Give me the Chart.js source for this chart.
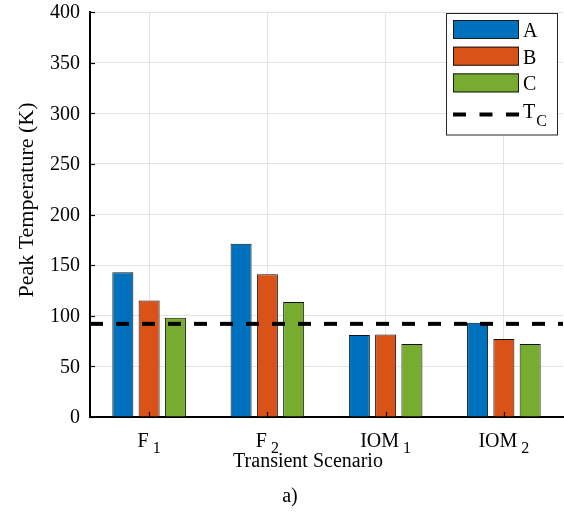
<!DOCTYPE html>
<html>
<head>
<meta charset="utf-8">
<script src="https://cdn.jsdelivr.net/npm/chart.js@4.4.0/dist/chart.umd.min.js"></script>
<style>
  html, body { margin: 0; padding: 0; background: #ffffff; }
  #wrap { width: 564px; height: 516px; }
</style>
</head>
<body>
<div id="wrap"><canvas id="chart" width="564" height="516"></canvas></div>
<script>
// Transient scenarios (base name + subscript) and peak temperatures per case
const scenarios = ['F_1', 'F_2', 'IOM_1', 'IOM_2'];
const seriesNames = ['A', 'B', 'C'];
const seriesA = [143, 171, 81, 93];
const seriesB = [115, 141, 81.5, 77];
const seriesC = [98, 113.5, 72, 72];
const seriesColors = ['#0072BD', '#D95319', '#77AC30'];
const criticalTemp = 92;          // T_C reference level
const criticalName = 'T_C';
const yTickValues = [0, 50, 100, 150, 200, 250, 300, 350, 400];

const SERIF = '"Liberation Serif", "Times New Roman", serif';
const font = size => size + 'px ' + SERIF;

function drawSub(ctx, text, cx, baseY, size, subSize, subDrop, gap, align) {
  const [main, sub] = text.split('_');
  ctx.font = font(size);
  const wMain = ctx.measureText(main).width;
  ctx.font = font(subSize);
  const wSub = sub ? ctx.measureText(sub).width : 0;
  const total = wMain + (sub ? gap + wSub : 0);
  const x = align === 'left' ? cx : cx - total / 2;
  ctx.textAlign = 'left';
  ctx.textBaseline = 'alphabetic';
  ctx.font = font(size);
  ctx.fillText(main, x, baseY);
  if (sub) {
    ctx.font = font(subSize);
    ctx.fillText(sub, x + wMain + gap, baseY + subDrop);
  }
}

const decorations = {
  id: 'decorations',
  afterDatasetsDraw(chart) {
    const { ctx, chartArea: a, scales: { x, y } } = chart;
    ctx.save();
    // inward tick marks
    ctx.strokeStyle = '#000';
    ctx.lineWidth = 1.2;
    yTickValues.forEach(v => {
      const py = Math.round(y.getPixelForValue(v)) + 0.5;
      ctx.beginPath(); ctx.moveTo(a.left, py); ctx.lineTo(a.left + 5, py); ctx.stroke();
    });
    scenarios.forEach((s, i) => {
      const px = Math.round(x.getPixelForValue(i)) + 0.5;
      ctx.beginPath(); ctx.moveTo(px, a.bottom); ctx.lineTo(px, a.bottom - 5); ctx.stroke();
    });
    // critical temperature level across the full axis
    const ty = y.getPixelForValue(criticalTemp);
    ctx.lineWidth = 4;
    ctx.setLineDash([13, 13]);
    ctx.beginPath(); ctx.moveTo(a.left, ty); ctx.lineTo(a.right, ty); ctx.stroke();
    ctx.restore();
  },
  afterDraw(chart) {
    const { ctx, chartArea: a, scales: { x, y } } = chart;
    ctx.save();
    ctx.fillStyle = '#000';
    // value axis labels
    ctx.font = font(20);
    ctx.textAlign = 'right';
    ctx.textBaseline = 'middle';
    yTickValues.forEach(v => ctx.fillText(String(v), a.left - 10, y.getPixelForValue(v) + 1));
    // category labels with subscripts
    scenarios.forEach((s, i) => {
      drawSub(ctx, s, x.getPixelForValue(i), 447, 20, 16, 6, 4);
    });
    // axis titles
    ctx.font = font(20);
    ctx.textAlign = 'center';
    ctx.textBaseline = 'alphabetic';
    ctx.fillText('Transient Scenario', 308, 467);
    ctx.fillText('a)', 290, 502);
    ctx.save();
    ctx.translate(27, 200);
    ctx.rotate(-Math.PI / 2);
    ctx.textBaseline = 'middle';
    ctx.font = font(22);
    ctx.fillText('Peak Temperature (K)', 0, 0);
    ctx.restore();

    // legend box
    const lx = 446.5, ly = 13.5, lw = 111, lh = 121.5;
    ctx.fillStyle = '#fff';
    ctx.fillRect(lx, ly, lw, lh);
    ctx.strokeStyle = '#262626';
    ctx.lineWidth = 1;
    ctx.strokeRect(lx, ly, lw, lh);
    const rowStep = 26.7;
    chart.data.datasets.forEach((ds, i) => {
      const top = 20 + i * rowStep;
      ctx.fillStyle = ds.backgroundColor;
      ctx.fillRect(453, top, 66, 19);
      ctx.strokeStyle = '#1a1a1a';
      ctx.lineWidth = 1;
      ctx.strokeRect(453.5, top + 0.5, 65, 18);
      ctx.fillStyle = '#000';
      ctx.font = font(20);
      ctx.textAlign = 'left';
      ctx.textBaseline = 'alphabetic';
      ctx.fillText(ds.label, 523, top + 17);
    });
    const dy = 114.5;
    ctx.strokeStyle = '#000';
    ctx.lineWidth = 4;
    ctx.setLineDash([13, 13.5]);
    ctx.beginPath(); ctx.moveTo(453, dy); ctx.lineTo(519.5, dy); ctx.stroke();
    ctx.setLineDash([]);
    drawSub(ctx, criticalName, 523, 118, 20, 16, 8, 1, 'left');
    ctx.restore();
  }
};

new Chart(document.getElementById('chart'), {
  type: 'bar',
  data: {
    labels: scenarios,
    datasets: [seriesA, seriesB, seriesC].map((d, i) => ({
      label: seriesNames[i],
      data: d,
      backgroundColor: seriesColors[i],
      borderColor: '#111',
      borderWidth: 1,
      categoryPercentage: 0.667,
      barPercentage: 0.8
    }))
  },
  options: {
    responsive: false,
    animation: false,
    devicePixelRatio: 1,
    layout: { padding: { top: 12, right: 1, left: 0, bottom: 0 } },
    plugins: { legend: { display: false }, tooltip: { enabled: false } },
    scales: {
      x: {
        offset: true,
        grid: { display: true, offset: false, color: '#e3e3e3', lineWidth: 1, drawTicks: false },
        border: { display: true, color: '#000', width: 2 },
        ticks: { display: false },
        afterFit(scale) { scale.height = 99; }
      },
      y: {
        min: 0, max: 400,
        afterBuildTicks(scale) { scale.ticks = yTickValues.map(v => ({ value: v })); },
        grid: { color: '#e3e3e3', lineWidth: 1, drawTicks: false },
        border: { display: true, color: '#000', width: 2 },
        ticks: { display: false },
        afterFit(scale) { scale.width = 90; }
      }
    }
  },
  plugins: [decorations]
});
</script>
</body>
</html>
